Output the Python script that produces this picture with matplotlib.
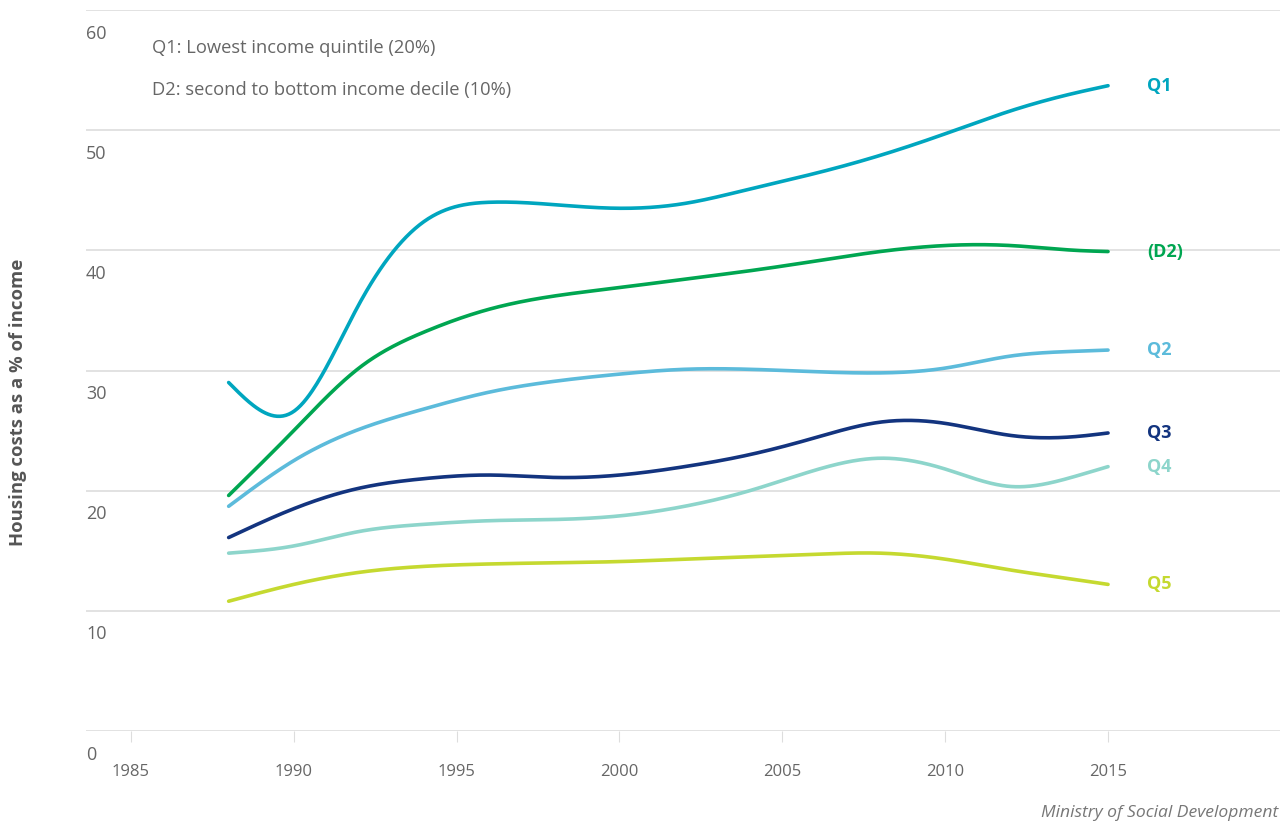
import numpy as np
import matplotlib
matplotlib.use("Agg")
import matplotlib.pyplot as plt
import matplotlib.transforms as mtransforms

plt.rcParams['font.family'] = ['Open Sans', 'DejaVu Sans']

years = [1988, 1990, 1992, 1994, 1996, 1998, 2000, 2002, 2004, 2006, 2008, 2010, 2012, 2014, 2015]

q1 = [29.0, 26.6, 35.5, 42.4, 44.0, 43.8, 43.5, 43.9, 45.1, 46.4, 47.9, 49.7, 51.6, 53.1, 53.7]
d2 = [19.6, 25.0, 30.2, 33.2, 35.1, 36.2, 36.9, 37.6, 38.3, 39.1, 39.9, 40.4, 40.4, 40.0, 39.9]
q2 = [18.7, 22.5, 25.1, 26.8, 28.2, 29.1, 29.7, 30.1, 30.1, 29.9, 29.8, 30.2, 31.2, 31.6, 31.7]
q3 = [16.1, 18.5, 20.2, 21.0, 21.3, 21.1, 21.3, 22.0, 23.0, 24.4, 25.7, 25.6, 24.6, 24.5, 24.8]
q4 = [14.8, 15.4, 16.6, 17.2, 17.5, 17.6, 17.9, 18.7, 20.0, 21.7, 22.7, 21.8, 20.35, 21.2, 22.0]
q5 = [10.8, 12.2, 13.2, 13.7, 13.9, 14.0, 14.1, 14.3, 14.5, 14.7, 14.8, 14.3, 13.4, 12.6, 12.2]

series_names = ["Q1", "(D2)", "Q2", "Q3", "Q4", "Q5"]
series_values = [q1, d2, q2, q3, q4, q5]
series_colors = ["#00a6bf", "#00a651", "#5cbbdb", "#13347f", "#8dd5cb", "#c5d930"]

x_ticks = [1985, 1990, 1995, 2000, 2005, 2010, 2015]
y_ticks = [0, 10, 20, 30, 40, 50, 60]


def natural_spline(x, y, xs):
    # plain natural cubic spline, just for a smooth line like the original
    x = np.asarray(x, float)
    y = np.asarray(y, float)
    n = len(x)
    h = np.diff(x)
    A = np.zeros((n, n))
    b = np.zeros(n)
    A[0, 0] = A[-1, -1] = 1
    for i in range(1, n - 1):
        A[i, i - 1] = h[i - 1]
        A[i, i] = 2 * (h[i - 1] + h[i])
        A[i, i + 1] = h[i]
        b[i] = 3 * ((y[i + 1] - y[i]) / h[i] - (y[i] - y[i - 1]) / h[i - 1])
    c = np.linalg.solve(A, b)
    bb = (y[1:] - y[:-1]) / h - h * (2 * c[:-1] + c[1:]) / 3
    d = (c[1:] - c[:-1]) / (3 * h)
    idx = np.clip(np.searchsorted(x, xs) - 1, 0, n - 2)
    dx = xs - x[idx]
    return y[idx] + bb[idx] * dx + c[idx] * dx ** 2 + d[idx] * dx ** 3


fig = plt.figure(figsize=(12.83, 8.25), dpi=100)
ax = fig.add_axes([86 / 1283, 1 - 731 / 825, (1280 - 86) / 1283, (731 - 10) / 825])

xs = np.linspace(years[0], years[-1], 600)
for name, vals, col in zip(series_names, series_values, series_colors):
    ax.plot(xs, natural_spline(years, vals, xs), color=col, lw=2.6,
            solid_capstyle='round', zorder=3)
    ax.text(2016.2, vals[-1], name, color=col, fontsize=13, fontweight='bold',
            va='center', ha='left')

ax.set_xlim(1983.62, 2020.28)
ax.set_ylim(0, 60)

for s in ax.spines.values():
    s.set_visible(False)

ax.set_yticks(y_ticks)
ax.yaxis.grid(True, color='#dddddd', lw=1.2)
ax.tick_params(axis='y', length=0, labelleft=False)
ax.set_axisbelow(True)

# y labels sit under their gridline, at the left edge
off = mtransforms.offset_copy(ax.get_yaxis_transform(), fig=fig, x=0, y=-17, units='points')
for v in y_ticks:
    ax.text(0.0, v, str(v), transform=off, ha='left', va='center',
            fontsize=13, color='#666666')

ax.set_xticks(x_ticks)
ax.set_xticklabels([str(t) for t in x_ticks])
ax.tick_params(axis='x', length=8, color='#dddddd', labelsize=12,
               labelcolor='#666666', pad=16)

ax.text(0.0553, 0.947, "Q1: Lowest income quintile (20%)",
        transform=ax.transAxes, fontsize=13.2, color='#666666', va='center')
ax.text(0.0553, 0.889, "D2: second to bottom income decile (10%)",
        transform=ax.transAxes, fontsize=13.2, color='#666666', va='center')

fig.text(18 / 1283, 1 - 402 / 825, "Housing costs as a % of income", rotation=90,
         fontsize=13.3, fontweight='bold', color='#555555', ha='center', va='center')
fig.text(1278 / 1283, 1 - 813 / 825, "Ministry of Social Development", fontsize=12.6,
         style='italic', color='#777777', ha='right', va='center')

fig.savefig("out.png", dpi=100)
